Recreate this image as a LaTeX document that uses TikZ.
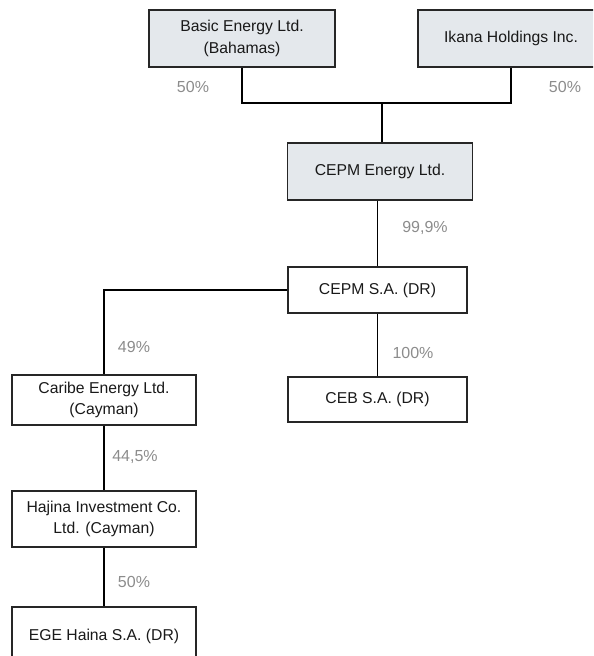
\documentclass[tikz,border=0pt]{standalone}
\usepackage{fontspec}
\setmainfont{Liberation Sans}
\usepackage[dvipsnames]{xcolor}
\definecolor{boxfill}{HTML}{E4E8EC}
\definecolor{pctgray}{HTML}{8C8C8C}

\begin{document}
\begin{tikzpicture}[x=0.75pt,y=-0.75pt,line width=0.8pt,main node/.style={rectangle,draw=black!85,line width=0.9pt,align=center,inner sep=0pt,text=black!90,font=\fontsize{11.8}{15.5}\selectfont},top node/.style={main node,fill=boxfill},pct/.style={text=pctgray,font=\fontsize{12}{14}\selectfont}]
                    \clip (0,0) rectangle (593,656);
                    \node[top node,minimum width=139.5pt,minimum height=42.75pt,font=\fontsize{11.8}{16.3}\selectfont] (basic) at (242,38.5) {Basic Energy Ltd.\\(Bahamas)};
                    \node[top node,minimum width=139.5pt,minimum height=42.75pt] (ikana) at (511,38.5) {Ikana Holdings Inc.};
                    \node[top node,minimum width=138.75pt,minimum height=42.75pt] (cepme) at (380,171.5) {CEPM Energy Ltd.};
                    \node[main node,minimum width=134.25pt,minimum height=34.5pt] (cepmsa) at (377.5,290) {CEPM S.A. (DR)};
                    \node[main node,minimum width=134.25pt,minimum height=33.75pt] (ceb) at (377.5,399.5) {CEB S.A. (DR)};
                    \node[main node,minimum width=138pt,minimum height=37.5pt] (caribe) at (104,400) {Caribe Energy Ltd.\\(Cayman)};
                    \node[main node,minimum width=138pt,minimum height=42pt] (hajina) at (104,519) {Hajina Investment Co.\\Ltd. (Cayman)};
                    \node[main node,minimum width=138pt,minimum height=43.5pt] (ege) at (104,636) {EGE Haina S.A. (DR)};

                    % shares
                    \node[pct] (p1) at (193,87) {50\%};
                    \node[pct] (p2) at (565,87) {50\%};
                    \node[pct] (p3) at (425,228) {99,9\%};
                    \node[pct] (p4) at (134,347) {49\%};
                    \node[pct] (p5) at (413,353) {100\%};
                    \node[pct] (p6) at (135,457) {44,5\%};
                    \node[pct] (p7) at (134,582) {50\%};

                    \coordinate (j) at (382,103);
                    \draw (basic.south) |- (j) -| (ikana.south);
                    \draw (j) -- (j |- cepme.north);
                    \draw (cepme.south -| cepmsa.north) -- (cepmsa.north);
                    \draw (cepmsa.south) -- (ceb.north);
                    \draw (cepmsa.west) -| (caribe.north);
                    \draw (caribe.south) -- (hajina.north);
                    \draw (hajina.south) -- (ege.north);
                \end{tikzpicture}
\end{document}
